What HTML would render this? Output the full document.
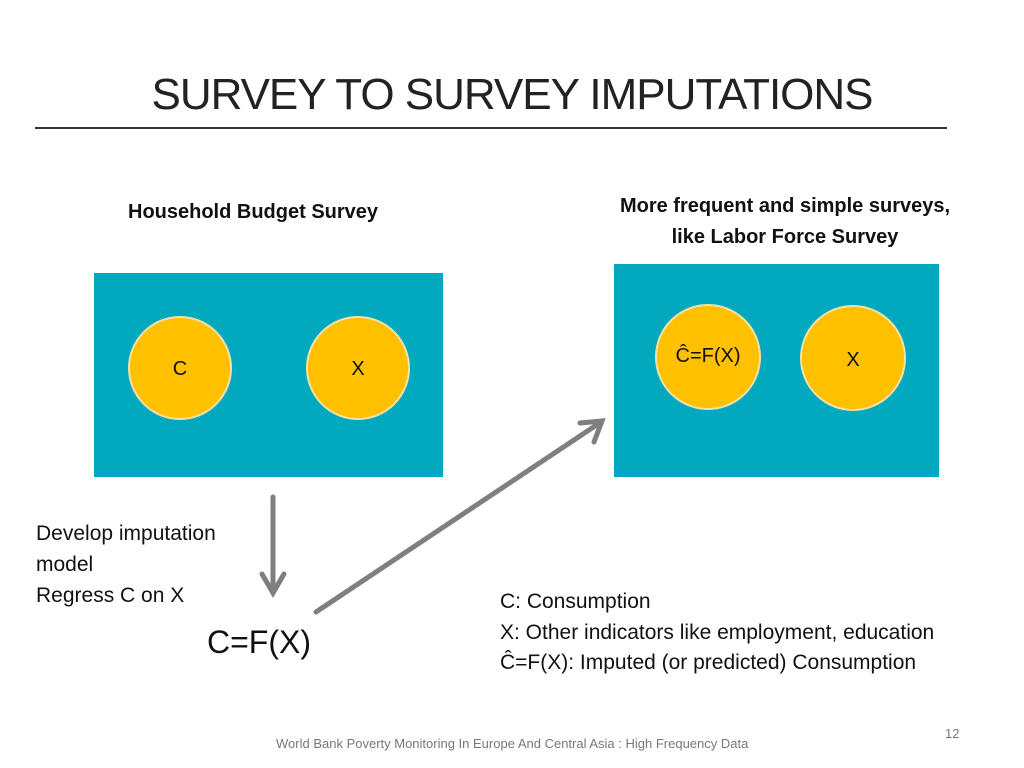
<!DOCTYPE html>
<html><head><meta charset="utf-8"><style>
body{margin:0;width:1024px;height:768px;background:#fff;position:relative;overflow:hidden;font-family:"Liberation Sans",sans-serif;color:#111}
.t{position:absolute;white-space:nowrap}
</style></head><body>
<div class="t" style="left:0;width:1024px;text-align:center;top:70px;font-size:44px;color:#222;letter-spacing:-1px">SURVEY TO SURVEY IMPUTATIONS</div>
<div style="position:absolute;left:35px;top:127px;width:912px;height:2px;background:#333"></div>
<div class="t" style="left:128px;top:201px;font-size:20px;font-weight:bold">Household Budget Survey</div>
<div class="t" style="left:585px;width:400px;text-align:center;top:191px;font-size:20px;font-weight:bold;line-height:31px">More frequent and simple surveys,<br>like Labor Force Survey</div>
<svg width="1024" height="768" style="position:absolute;left:0;top:0">
<rect x="94" y="273" width="349" height="204" fill="#00A9BE"/>
<rect x="614" y="264" width="325" height="213" fill="#00A9BE"/>
<g stroke="#F8E0A8" stroke-width="2" fill="#FFC000">
<circle cx="180" cy="368" r="51"/>
<circle cx="358" cy="368" r="51"/>
<circle cx="708" cy="357" r="52"/>
<circle cx="853" cy="358" r="52"/>
</g>
<g font-family="Liberation Sans,sans-serif" font-size="20" fill="#111" text-anchor="middle">
<text x="180" y="375">C</text><text x="358" y="375">X</text>
<text x="708" y="362">Ĉ=F(X)</text><text x="853" y="366">X</text>
</g>
<g stroke="#7F7F7F" stroke-width="5" fill="none" stroke-linecap="round">
<line x1="273" y1="497" x2="273" y2="592"/>
<polyline points="262,574 273,593 284,574"/>
<line x1="316" y1="612" x2="601" y2="422"/>
<polyline points="580,423 602,421 594,442"/>
</g>
</svg>
<div class="t" style="left:36px;top:518px;font-size:21px;line-height:31px">Develop imputation<br>model<br>Regress C on X</div>
<div class="t" style="left:207px;top:624px;font-size:32px">C=F(X)</div>
<div class="t" style="left:500px;top:587px;font-size:21px;line-height:30.5px">C: Consumption<br>X: Other indicators like employment, education<br>Ĉ=F(X): Imputed (or predicted) Consumption</div>
<div class="t" style="left:945px;top:726px;font-size:13px;color:#777">12</div>
<div class="t" style="left:276px;top:736px;font-size:13px;color:#777">World Bank Poverty Monitoring In Europe And Central Asia : High Frequency Data</div>
</body></html>
